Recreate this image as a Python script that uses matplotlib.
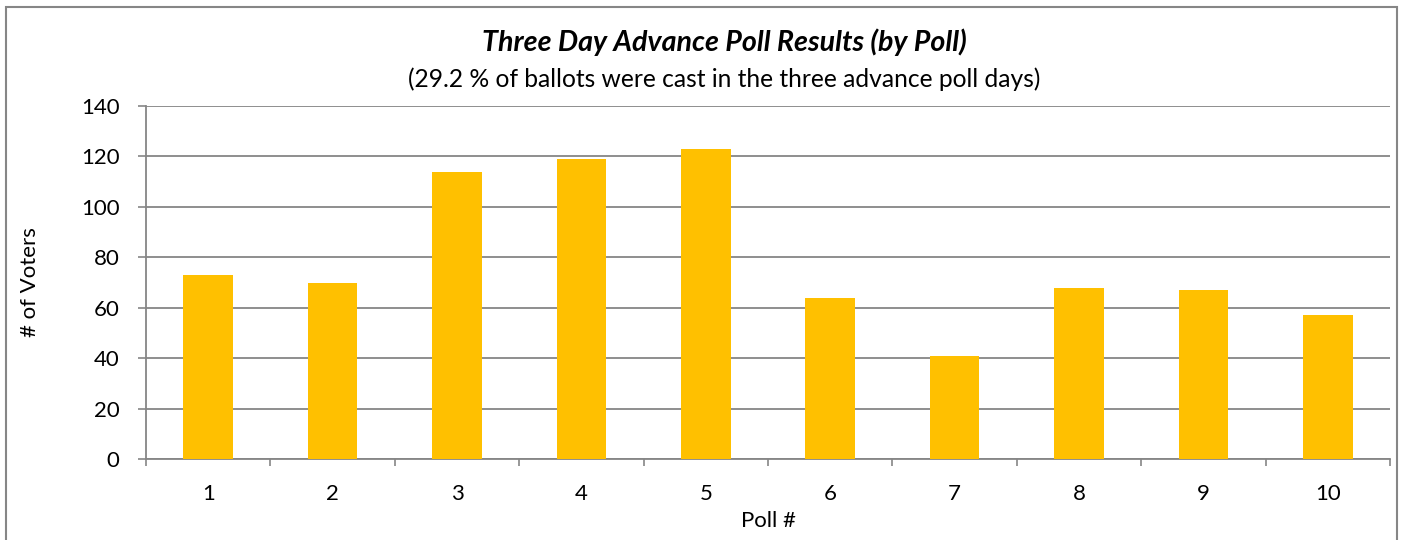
import matplotlib
matplotlib.use("Agg")
import matplotlib.pyplot as plt
from matplotlib.patches import Rectangle
from matplotlib.ticker import FixedLocator

polls = ["1", "2", "3", "4", "5", "6", "7", "8", "9", "10"]
voters = [73, 70, 114, 119, 123, 64, 41, 68, 67, 57]
yticks = [0, 20, 40, 60, 80, 100, 120, 140]

title = "Three Day Advance Poll Results (by Poll)"
subtitle = "(29.2 % of ballots were cast in the three advance poll days)"
xlabel = "Poll #"
ylabel = "# of Voters"

plt.rcParams['font.family'] = ['Lato', 'DejaVu Sans']

fig = plt.figure(figsize=(14.03, 5.40), dpi=100)
ax = fig.add_axes([146/1403, 1-459/540, (1390-146)/1403, (459-106)/540])

grid_c = "#868686"
x = list(range(1, len(polls) + 1))
ax.bar(x, voters, width=0.4, color="#FFC000", zorder=3)

ax.set_xlim(0.5, len(polls) + 0.5)
ax.set_ylim(0, 140)
ax.set_yticks(yticks)
ax.set_xticks(x)
ax.set_xticklabels(polls)
ax.xaxis.set_minor_locator(FixedLocator([i + 0.5 for i in range(0, len(polls) + 1)]))
ax.tick_params(axis='x', which='major', length=0, pad=18, labelsize=16)
ax.tick_params(axis='x', which='minor', length=5, width=1.2, color=grid_c, direction='out')
ax.tick_params(axis='y', length=6, width=1.2, color=grid_c, pad=13, labelsize=16)

ax.yaxis.grid(True, color=grid_c, linewidth=1.3, zorder=0)
ax.set_axisbelow(True)
for s in ['top', 'right']:
    ax.spines[s].set_visible(False)
for s in ['left', 'bottom']:
    ax.spines[s].set_color(grid_c)
    ax.spines[s].set_linewidth(1.3)

ax.set_xlabel(xlabel, fontsize=16, va='center')
ax.xaxis.set_label_coords(0.5, (459-521)/353)
ax.set_ylabel(ylabel, fontsize=16, va='center', ha='center')
ax.yaxis.set_label_coords((30-146)/1244, 0.5)

fig.text(724/1403, 1-42/540, title, ha='center', va='center', fontsize=20.6,
         fontweight='bold', fontstyle='italic')
fig.text(724/1403, 1-79/540, subtitle, ha='center', va='center', fontsize=17.7)

fig.patches.append(Rectangle((6/1403, -0.02), (1397-6)/1403, 1-7/540+0.02,
                             transform=fig.transFigure, fill=False,
                             edgecolor=grid_c, linewidth=1.5))

fig.savefig("out.png", dpi=100)
